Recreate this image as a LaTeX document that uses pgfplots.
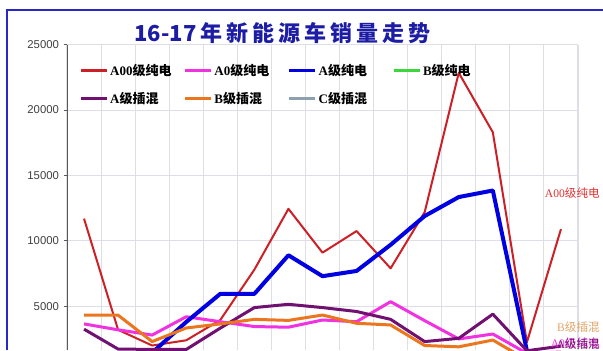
\documentclass[border=0pt]{standalone}
\usepackage{fontspec}
\setmainfont{Liberation Serif}
\newfontfamily\cjk{Noto Sans CJK SC}
\newfontfamily\arial{Liberation Sans}
\usepackage{pgfplots}
\pgfplotsset{compat=1.18}
\definecolor{cA00}{RGB}{205,32,38}
\definecolor{cA0}{RGB}{240,50,225}
\definecolor{cA}{RGB}{0,0,225}
\definecolor{cB}{RGB}{60,215,60}
\definecolor{cAPH}{RGB}{112,16,112}
\definecolor{cBPH}{RGB}{235,118,30}
\definecolor{cCPH}{RGB}{140,160,175}
\definecolor{frameblue}{RGB}{40,40,200}
\definecolor{titleblue}{RGB}{28,28,165}
\definecolor{gridc}{RGB}{222,222,230}
\definecolor{labA00}{RGB}{225,50,50}
\definecolor{labBPH}{RGB}{228,165,105}
\newcommand{\tsp}{\hspace{3pt}}
\begin{document}
\begin{tikzpicture}
\useasboundingbox (0,0) rectangle (452.25pt,262.5pt);
\fill[white] (0,0) rectangle (452.25pt,262.5pt);
\draw[frameblue, line width=1pt] (5.25pt,0) -- (5.25pt,255pt) -- (452.25pt,255pt);
\begin{axis}[
  at={(50.25pt,0pt)}, anchor=south west,
  scale only axis, width=383.25pt, height=229pt,
  xmin=-0.5, xmax=14.5, ymin=1657, ymax=25000,
  clip=true,
  axis line style={draw=none},
  xtick={-0.5,0.5,...,14.5}, xticklabels={}, x tick style={draw=none},
  ytick={5000,10000,15000,20000,25000},
  scaled y ticks=false,
  ytick pos=left, ytick align=outside, major tick length=2.5pt,
  y tick style={draw=gray!70!black, line width=0.6pt},
  /pgf/number format/1000 sep={},
  /pgf/number format/assume math mode=true,
  yticklabel style={font=\arial\fontsize{8.5}{10}\selectfont, text=black!75},
  xmajorgrids, ymajorgrids,
  grid style={draw=gridc, line width=0.8pt},
  legend columns=4,
  legend style={draw=none, fill=none, at={(0.0235,0.938)}, anchor=north west,
    font=\bfseries\fontsize{9.75}{11}\selectfont, inner sep=0pt,
    row sep=11pt,
    nodes={inner xsep=1.5pt, inner ysep=0pt}},
  legend image code/.code={\draw[#1, line width=2.2pt] (0pt,0pt) -- (19.5pt,0pt);},
  every axis plot/.append style={line join=round, no markers},
]
\addplot[cA00, line width=1.5pt] coordinates {(0,11700) (1,3200) (2,2000) (3,2400) (4,3950) (5,7800) (6,12450) (7,9100) (8,10750) (9,7900) (10,12200) (11,22850) (12,18300) (13,2250) (14,10900)};
\addlegendentry{\makebox[53.5pt][l]{A00{\cjk 级纯电}}}
\addplot[cA0, line width=2.25pt] coordinates {(0,3650) (1,3200) (2,2800) (3,4200) (4,3820) (5,3450) (6,3400) (7,3950) (8,3820) (9,5350) (10,3900) (11,2500) (12,2880) (13,1400) (14,1500)};
\addlegendentry{\makebox[53.5pt][l]{A0{\cjk 级纯电}}}
\addplot[cA, line width=3pt] coordinates {(0,900) (1,700) (2,1450) (3,3800) (4,5950) (5,5950) (6,8900) (7,7300) (8,7700) (9,9700) (10,11900) (11,13350) (12,13850) (13,1600) (14,800)};
\addlegendentry{\makebox[53.5pt][l]{A{\cjk 级纯电}}}
\addplot[cB, line width=2.25pt] coordinates {(0,300) (1,250) (2,200) (3,300) (4,350) (5,400) (6,450) (7,400) (8,500) (9,600) (10,700) (11,900) (12,1100) (13,200) (14,300)};
\addlegendentry{\makebox[53.5pt][l]{B{\cjk 级纯电}}}
\addplot[cAPH, line width=2.25pt] coordinates {(0,3250) (1,1730) (2,1700) (3,1700) (4,3330) (5,4900) (6,5150) (7,4900) (8,4600) (9,4000) (10,2300) (11,2550) (12,4400) (13,1600) (14,1950)};
\addlegendentry{\makebox[53.5pt][l]{A{\cjk 级插混}}}
\addplot[cBPH, line width=2.25pt] coordinates {(0,4320) (1,4320) (2,2300) (3,3340) (4,3650) (5,4000) (6,3920) (7,4330) (8,3700) (9,3570) (10,2000) (11,1900) (12,2420) (13,900) (14,1200)};
\addlegendentry{\makebox[53.5pt][l]{B{\cjk 级插混}}}
\addplot[cCPH, line width=2.25pt] coordinates {(0,100) (1,80) (2,90) (3,120) (4,150) (5,180) (6,200) (7,220) (8,250) (9,300) (10,350) (11,400) (12,450) (13,100) (14,150)};
\addlegendentry{\makebox[53.5pt][l]{C{\cjk 级插混}}}
\end{axis}
\draw[gray!70!black, line width=0.7pt] (50.25pt,0pt) -- (50.25pt,229pt);
\node[font=\cjk\bfseries\fontsize{16.5}{18}\selectfont, text=titleblue] at (211.9pt,237.75pt)
  {16-17\tsp 年\tsp 新\tsp 能\tsp 源\tsp 车\tsp 销\tsp 量\tsp 走\tsp 势};
\node[anchor=east, inner sep=0pt, text=labA00, font=\fontsize{8.7}{10}\selectfont] at (450pt,117.75pt) {A00{\cjk 级纯电}};
\node[anchor=east, inner sep=0pt, text=labBPH, font=\fontsize{8.7}{10}\selectfont] at (450pt,17.25pt) {B{\cjk 级插混}};
\node[anchor=east, inner sep=0pt, text=cA0, font=\fontsize{8.7}{10}\selectfont] at (450pt,5.25pt) {A0{\cjk 级纯电}};
\node[anchor=east, inner sep=0pt, text=cAPH, font=\fontsize{8.7}{10}\selectfont] at (450pt,4.25pt) {A{\cjk 级插混}};
\end{tikzpicture}
\end{document}
